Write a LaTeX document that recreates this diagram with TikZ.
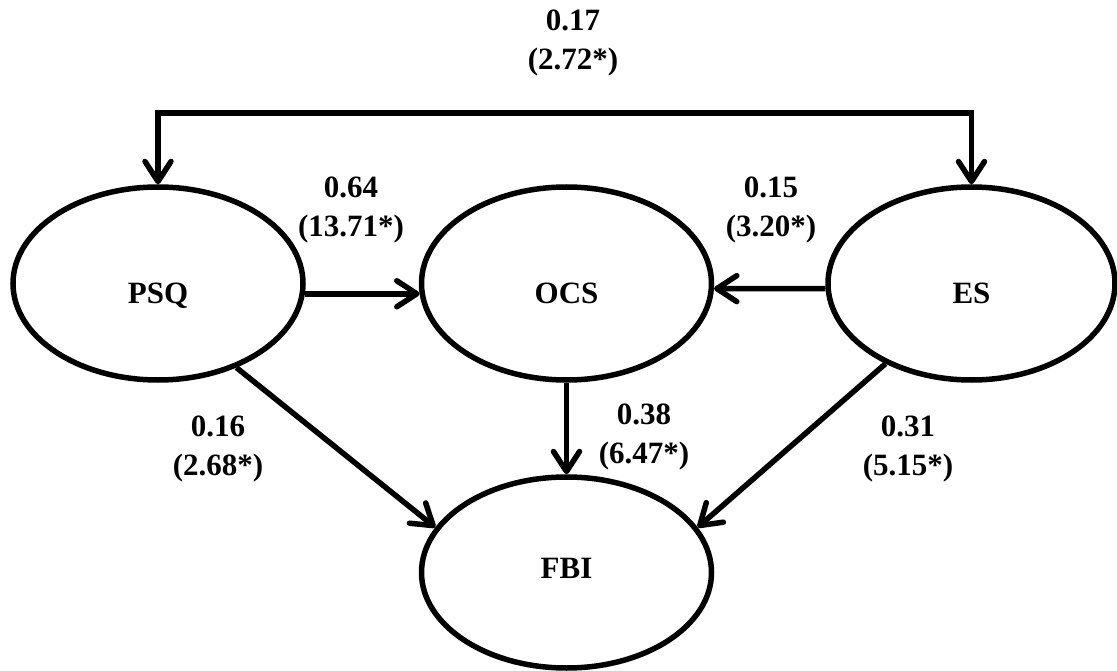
\documentclass[tikz,border=0pt]{standalone}
\usepackage{fontspec}
\setmainfont{Liberation Serif}
\usetikzlibrary{shapes.geometric,arrows.meta}
\begin{document}
\begin{tikzpicture}[x=1pt,y=-1pt,
  font=\fontsize{31}{39}\selectfont\bfseries,
  latent/.style={ellipse,draw,line width=5.5pt,minimum width=290pt,
    minimum height=193pt,inner sep=0pt},
  uppertext/.style={text height=41pt,text depth=0pt},
  lowertext/.style={text height=21pt,text depth=10pt},
  coef/.style={align=center,inner sep=0pt},
  path/.style={line width=5.5pt,
    -{Straight Barb[length=20pt,width=26pt,round]}},
  twoway/.style={line width=5.5pt,
    {Straight Barb[length=20pt,width=26pt,round]}-{Straight Barb[length=20pt,width=26pt,round]}}]
\useasboundingbox (0,0) rectangle (1117,671);

% latent constructs
\node[latent,uppertext] (PSQ) at (158,283.5) {PSQ};
\node[latent,uppertext] (OCS) at (566.5,283.5) {OCS};
\node[latent,uppertext,minimum width=287pt] (ES) at (971.5,283.5) {ES};
\node[latent,lowertext,minimum height=191pt] (FBI) at (566.5,572.5) {FBI};

% covariance between PSQ and ES
\coordinate (topline) at (0,113);
\draw[twoway] (PSQ.north) -- (PSQ.north |- topline) -- (ES.north |- topline) -- (ES.north);

% structural paths
\draw[path] (PSQ.-4) -- (OCS.184);
\draw[path] (ES.182) -- (OCS.-2);
\draw[path] (OCS.south) -- (FBI.north);
\draw[path] (PSQ.-47.7) -- (FBI.161.8);
\draw[path] (ES.-137) -- (FBI.19.5);

% path coefficients (t-values)
\node[coef] (c17) at (573,43) {0.17\\(2.72*)};
\node[coef] (c64) at (351,210) {0.64\\(13.71*)};
\node[coef] (c15) at (771,210) {0.15\\(3.20*)};
\node[coef] (c16) at (218,449) {0.16\\(2.68*)};
\node[coef] (c38) at (644,437) {0.38\\(6.47*)};
\node[coef] (c31) at (908,449) {0.31\\(5.15*)};
\end{tikzpicture}
\end{document}
